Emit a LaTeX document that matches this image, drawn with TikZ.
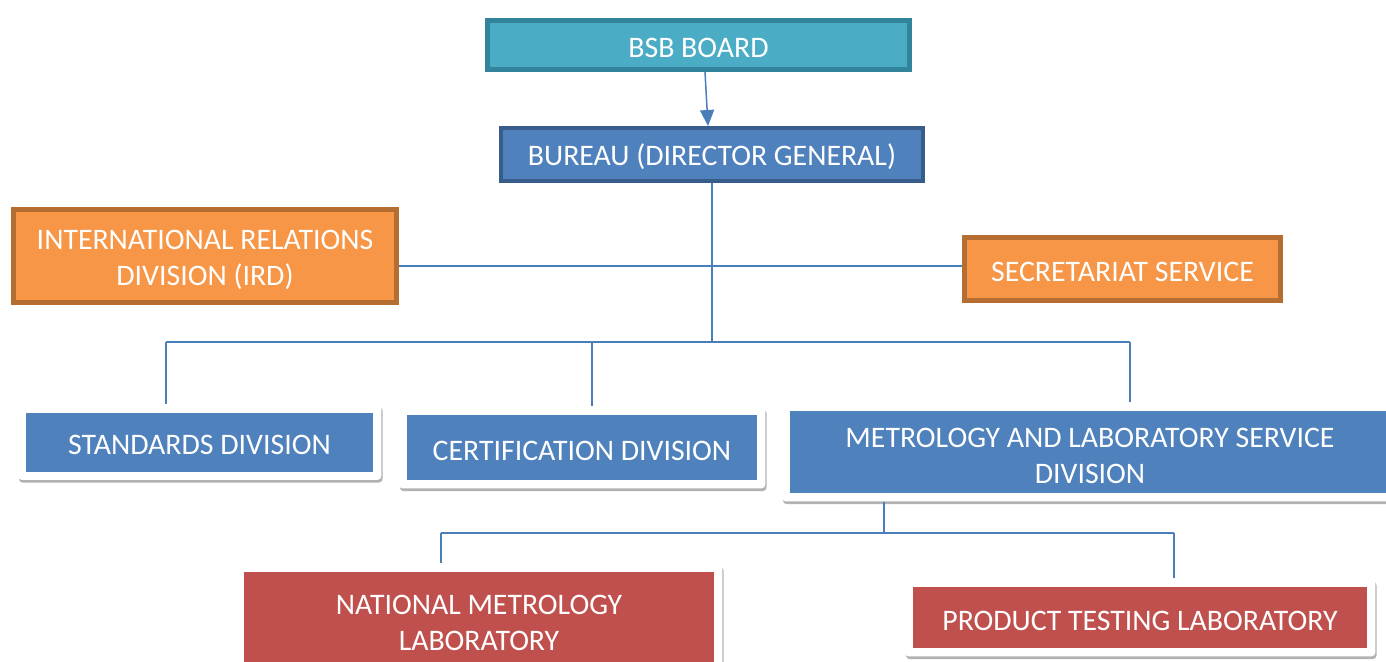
\documentclass[tikz,border=0pt]{standalone}
\usepackage{fontspec}
\setmainfont{Carlito}
\usepackage{xcolor}
\usetikzlibrary{arrows.meta,shadows,fit,backgrounds}
\definecolor{tealfill}{HTML}{4BACC6}
\definecolor{tealline}{HTML}{31849B}
\definecolor{bluefill}{HTML}{4F81BD}
\definecolor{blueline}{HTML}{385D8A}
\definecolor{orangefill}{HTML}{F79646}
\definecolor{orangeline}{HTML}{B66D31}
\definecolor{redfill}{HTML}{C0504D}
\definecolor{linkcol}{HTML}{4A7EBB}

\begin{document}
\begin{tikzpicture}[x=0.5pt,y=-0.5pt,
  box/.style={text=white, align=center, font=\fontsize{14.9}{18.2}\selectfont, inner sep=0pt},
  oneline/.style={text height=13pt},
  twoline/.style={text height=32pt},
  board/.style={box, fill=tealfill, draw=tealline, line width=2.5pt},
  chief/.style={box, fill=bluefill, draw=blueline, line width=2pt},
  side/.style={box, fill=orangefill, draw=orangeline, line width=2.5pt},
  unit/.style={box, fill=bluefill},
  lab/.style={box, fill=redfill},
  card/.style={fill=white, rounded corners=2pt, inner sep=4pt,
    drop shadow={shadow xshift=0.6pt, shadow yshift=-1.4pt, opacity=0.55, fill=black!55}},
  link/.style={draw=linkcol, line width=0.75pt}]
\useasboundingbox (0,0) rectangle (1386,661);

% boxes
\node[board, oneline, minimum width=211pt, minimum height=24.5pt] (bsb) at (698.5,45) {BSB BOARD};
\node[chief, oneline, minimum width=211pt, minimum height=26.5pt] (dg) at (712,154.5) {BUREAU (DIRECTOR GENERAL)};
\node[side, twoline, minimum width=191.5pt, minimum height=46.5pt] (ird) at (205,256) {INTERNATIONAL RELATIONS\\DIVISION (IRD)};
\node[side, oneline, minimum width=158pt, minimum height=31.5pt] (sec) at (1122.5,269) {SECRETARIAT SERVICE};
\node[unit, oneline, minimum width=173.5pt, minimum height=29.5pt] (std) at (199.5,442) {STANDARDS DIVISION};
\node[unit, oneline, minimum width=175pt, minimum height=32.5pt] (cert) at (582,447.5) {CERTIFICATION DIVISION};
\node[unit, twoline, minimum width=300pt, minimum height=41pt] (met) at (1090,452) {METROLOGY AND LABORATORY SERVICE\\DIVISION};
\node[lab, twoline, minimum width=235pt, minimum height=47pt] (nml) at (479,619) {NATIONAL METROLOGY\\LABORATORY};
\node[lab, oneline, minimum width=227pt, minimum height=30.5pt] (ptl) at (1140,617.5) {PRODUCT TESTING LABORATORY};

\begin{scope}[on background layer]
\foreach \n in {std,cert,met,nml,ptl}
  \node[card, fit=(\n)] (c\n) {};
\end{scope}

% connectors
\draw[link, -{Triangle[width=7pt,length=8pt]}] ([xshift=3.25pt]bsb.south) -- ([xshift=-2pt]dg.north);
\coordinate (mid) at (712,266);
\coordinate (hub) at (712,342);
\draw[link] (dg.south) -- (hub);
\draw[link] (ird.east |- mid) -- (sec.west |- mid);
\coordinate (d1) at (166,342);
\coordinate (d2) at (592,342);
\coordinate (d3) at (1130,342);
\draw[link] (d1) -- (d3);
\foreach \p/\n in {d1/std, d2/cert, d3/met}
  \draw[link] (\p) -- (\p |- c\n.north);
\coordinate (hub2) at (884,533);
\coordinate (d4) at (441,533);
\coordinate (d5) at (1174,533);
\draw[link] (hub2 |- cmet.south) -- (hub2);
\draw[link] (d4) -- (d5);
\draw[link] (d4) -- (d4 |- cnml.north);
\draw[link] (d5) -- (d5 |- cptl.north);
\end{tikzpicture}
\end{document}
